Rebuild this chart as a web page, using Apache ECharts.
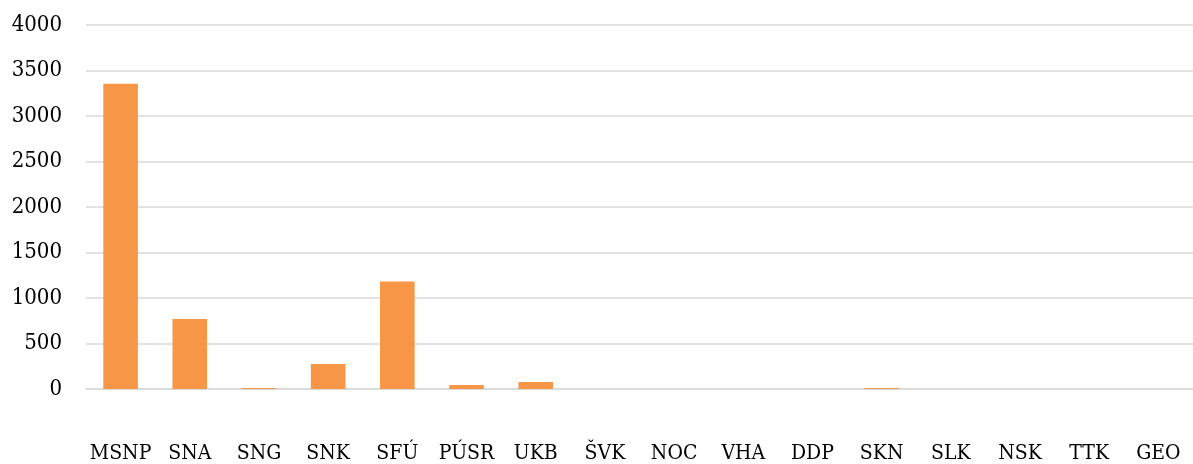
<!DOCTYPE html>
<html>
<head>
<meta charset="utf-8">
<script src="https://cdn.jsdelivr.net/npm/echarts@6/dist/echarts.min.js"></script>
<style>
html,body{margin:0;padding:0;background:#fff;}
#chart{width:1193px;height:464px;}
</style>
</head>
<body>
<div id="chart"></div>
<script>
const categories = ["MSNP","SNA","SNG","SNK","SFÚ","PÚSR","UKB","ŠVK","NOC","VHA","DDP","SKN","SLK","NSK","TTK","GEO"];
const values = [3355, 770, 10, 275, 1180, 45, 78, 0, 0, 0, 0, 10, 0, 0, 0, 0];
const yTicks = { min: 0, max: 4000, interval: 500 };

const FONT = '"DejaVu Serif Condensed", "DejaVu Serif", serif';
const chart = echarts.init(document.getElementById('chart'), null, {renderer: 'canvas'});
chart.setOption({
  animation: false,
  backgroundColor: '#ffffff',
  grid: { left: 86, right: 0, top: 25, bottom: 74, containLabel: false },
  xAxis: {
    type: 'category',
    data: categories,
    axisLine: { show: true, lineStyle: { color: '#D9D9D9', width: 1.5 } },
    axisTick: { show: false },
    axisLabel: { color: '#000', fontFamily: FONT, fontSize: 21, margin: 54, interval: 0 }
  },
  yAxis: {
    type: 'value',
    min: yTicks.min, max: yTicks.max, interval: yTicks.interval,
    axisLine: { show: false },
    axisTick: { show: false },
    splitLine: { lineStyle: { color: '#D9D9D9', width: 1.5 } },
    axisLabel: { color: '#000', fontFamily: FONT, fontSize: 22, margin: 24, formatter: v => String(v) }
  },
  series: [{
    type: 'bar',
    data: values,
    barWidth: '50%',
    itemStyle: { color: '#F79646' }
  }]
});
</script>
</body>
</html>
